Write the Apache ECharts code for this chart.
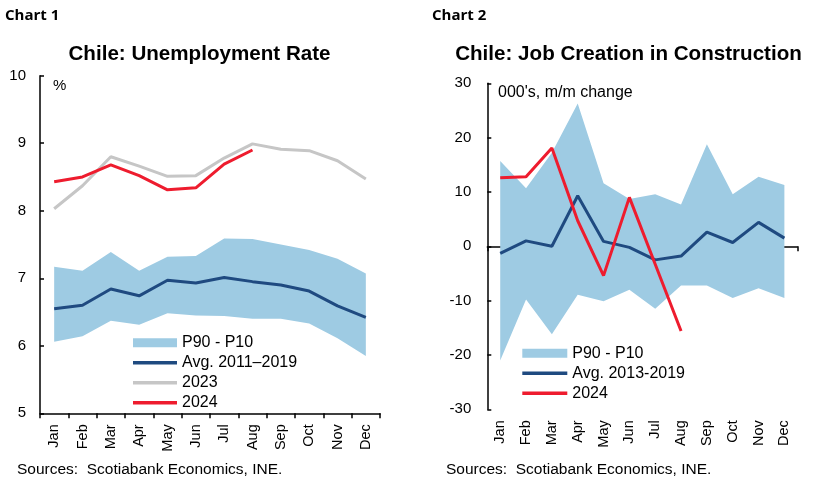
<!DOCTYPE html>
<html>
<head>
<meta charset="utf-8">
<script src="https://cdn.jsdelivr.net/npm/echarts@6/dist/echarts.min.js"></script>
<style>
html,body{margin:0;padding:0;background:#fff;}
#c{width:828px;height:483px;}
</style>
</head>
<body>
<div id="c"></div>
<script>
var months = ['Jan','Feb','Mar','Apr','May','Jun','Jul','Aug','Sep','Oct','Nov','Dec'];

// Chart 1: Unemployment rate (%)
var u_p90 = [7.17,7.11,7.39,7.11,7.32,7.33,7.59,7.58,7.50,7.42,7.29,7.07];
var u_p10 = [6.06,6.14,6.37,6.31,6.48,6.45,6.44,6.40,6.40,6.33,6.11,5.85];
var u_avg = [6.55,6.60,6.84,6.74,6.97,6.93,7.01,6.95,6.90,6.81,6.59,6.42];
var u_2023 = [8.03,8.37,8.80,8.66,8.51,8.52,8.78,8.99,8.91,8.89,8.74,8.47];
var u_2024 = [8.43,8.50,8.68,8.52,8.31,8.34,8.69,8.90,null,null,null,null];
var u_ticks = [5,6,7,8,9,10];

// Chart 2: Job creation in construction (000's, m/m change)
var j_p90 = [15.7,10.7,17.2,26.3,11.6,8.7,9.6,7.7,18.8,9.6,12.8,11.3];
var j_p10 = [-21.0,-9.8,-16.2,-8.9,-10.1,-8.0,-11.5,-7.2,-7.2,-9.5,-7.7,-9.5];
var j_avg = [-1.3,1.0,0.0,9.3,0.9,-0.2,-2.5,-1.8,2.6,0.7,4.4,1.5];
var j_2024 = [12.6,12.8,18.1,4.7,-5.4,9.0,-3.3,-15.6,null,null,null,null];
var j_ticks = [-30,-20,-10,0,10,20,30];

var BAND = '#9ECBE3', NAVY = '#1F4A80', GRAY = '#C6C6C6', RED = '#EE1C2E';
var FONT = '"Liberation Sans", Arial, sans-serif';
var LINE_ICON = 'path://M0,0H44V3.4H0Z';

function diff(a,b){ return a.map(function(v,i){ return +(v-b[i]).toFixed(3); }); }

var chart = echarts.init(document.getElementById('c'), null, {renderer:'canvas'});

function xLab(){ return {rotate:90, margin:11, color:'#000', fontSize:14.5, fontFamily:FONT}; }

var option = {
  animation:false,
  backgroundColor:'#fff',
  grid:[
    {left:40, top:75.7, width:340, height:337.6},
    {left:487.3, top:83.3, width:310, height:326}
  ],
  xAxis:[
    {gridIndex:0, type:'category', data:months, boundaryGap:true,
     axisLine:{lineStyle:{color:'#000', width:1.5}},
     axisTick:{show:true, inside:false, length:5, lineStyle:{color:'#000', width:1.5}},
     axisLabel:xLab(), splitLine:{show:false}},
    {gridIndex:1, type:'category', data:months, boundaryGap:true,
     axisLine:{onZero:true, lineStyle:{color:'#000', width:1.5}},
     axisTick:{show:true, inside:false, length:5, lineStyle:{color:'#000', width:1.5}},
     axisLabel:{show:false}, splitLine:{show:false}},
    {gridIndex:1, type:'category', data:months, boundaryGap:true, position:'bottom',
     axisLine:{show:false, onZero:false}, axisTick:{show:false},
     axisLabel:xLab(), splitLine:{show:false}}
  ],
  yAxis:[
    {gridIndex:0, type:'value', min:u_ticks[0], max:u_ticks[u_ticks.length-1], interval:1,
     axisLine:{show:true, lineStyle:{color:'#000', width:1.5}},
     axisTick:{show:true, inside:true, length:4, lineStyle:{color:'#000', width:1.5}},
     axisLabel:{color:'#000', fontSize:15, fontFamily:FONT, margin:14},
     splitLine:{show:false}},
    {gridIndex:1, type:'value', min:j_ticks[0], max:j_ticks[j_ticks.length-1], interval:10,
     axisLine:{show:true, onZero:false, lineStyle:{color:'#000', width:1.5}},
     axisTick:{show:true, inside:true, length:4, lineStyle:{color:'#000', width:1.5}},
     axisLabel:{color:'#000', fontSize:15, fontFamily:FONT, margin:16},
     splitLine:{show:false}}
  ],
  legend:[
    {orient:'vertical', left:133, top:334.7, padding:0, itemWidth:44, itemHeight:9, itemGap:4,
     symbolKeepAspect:true,
     textStyle:{color:'#000', fontSize:16, fontFamily:FONT},
     selectedMode:false,
     data:[{name:'P90 - P10', icon:'rect'},
           {name:'Avg. 2011\u20132019', icon:LINE_ICON, itemStyle:{color:NAVY}},
           {name:'2023', icon:LINE_ICON, itemStyle:{color:GRAY}},
           {name:'2024', icon:LINE_ICON, itemStyle:{color:RED}}]},
    {orient:'vertical', left:522.3, top:345.3, padding:0, itemWidth:45, itemHeight:9, itemGap:4,
     symbolKeepAspect:true,
     textStyle:{color:'#000', fontSize:16, fontFamily:FONT},
     selectedMode:false,
     data:[{name:'P90 - P10', icon:'rect'},
           {name:'Avg. 2013-2019', icon:LINE_ICON, itemStyle:{color:NAVY}},
           {name:'2024', icon:LINE_ICON, itemStyle:{color:RED}}]}
  ],
  series:[
    {name:'_lo1', type:'line', xAxisIndex:0, yAxisIndex:0, stack:'b1', stackStrategy:'all',
     data:u_p10, symbol:'none', lineStyle:{width:0, opacity:0}, silent:true, z:1},
    {name:'P90 - P10', type:'line', xAxisIndex:0, yAxisIndex:0, stack:'b1', stackStrategy:'all',
     data:diff(u_p90,u_p10), symbol:'none', color:BAND, itemStyle:{color:BAND},
     lineStyle:{width:0, opacity:0}, areaStyle:{color:BAND, opacity:1}, silent:true, z:1},
    {name:'Avg. 2011\u20132019', type:'line', xAxisIndex:0, yAxisIndex:0, data:u_avg,
     symbol:'none', color:NAVY, lineStyle:{color:NAVY, width:3}, z:3},
    {name:'2023', type:'line', xAxisIndex:0, yAxisIndex:0, data:u_2023,
     symbol:'none', color:GRAY, lineStyle:{color:GRAY, width:3}, z:3},
    {name:'2024', type:'line', xAxisIndex:0, yAxisIndex:0, data:u_2024,
     symbol:'none', color:RED, lineStyle:{color:RED, width:3}, z:4},

    {name:'_lo2', type:'line', xAxisIndex:1, yAxisIndex:1, stack:'b2', stackStrategy:'all',
     data:j_p10, symbol:'none', lineStyle:{width:0, opacity:0}, silent:true, z:1},
    {name:'P90 - P10', type:'line', xAxisIndex:1, yAxisIndex:1, stack:'b2', stackStrategy:'all',
     data:diff(j_p90,j_p10), symbol:'none', color:BAND, itemStyle:{color:BAND},
     lineStyle:{width:0, opacity:0}, areaStyle:{color:BAND, opacity:1}, silent:true, z:1},
    {name:'Avg. 2013-2019', type:'line', xAxisIndex:1, yAxisIndex:1, data:j_avg,
     symbol:'none', color:NAVY, lineStyle:{color:NAVY, width:3}, z:3},
    {name:'2024', type:'line', xAxisIndex:1, yAxisIndex:1, data:j_2024,
     symbol:'none', color:RED, lineStyle:{color:RED, width:3}, z:4}
  ],
  graphic:[
    {type:'text', x:5, y:16, style:{text:'Chart 1', font:'bold 15px "Open Sans", sans-serif', fill:'#000', align:'left', verticalAlign:'middle', textAlign:'left', textVerticalAlign:'middle'}},
    {type:'text', x:432, y:16, style:{text:'Chart 2', font:'bold 15px "Open Sans", sans-serif', fill:'#000', align:'left', verticalAlign:'middle', textAlign:'left', textVerticalAlign:'middle'}},
    {type:'text', x:199.5, y:54.5, style:{text:'Chile: Unemployment Rate', font:'bold 20.6px "Liberation Sans", Arial, sans-serif', fill:'#000', align:'center', verticalAlign:'middle', textAlign:'center', textVerticalAlign:'middle'}},
    {type:'text', x:628.5, y:54.5, style:{text:'Chile: Job Creation in Construction', font:'bold 20.6px "Liberation Sans", Arial, sans-serif', fill:'#000', align:'center', verticalAlign:'middle', textAlign:'center', textVerticalAlign:'middle'}},
    {type:'text', x:53, y:86, style:{text:'%', font:'15px "Liberation Sans", Arial, sans-serif', fill:'#000', align:'left', verticalAlign:'middle', textAlign:'left', textVerticalAlign:'middle'}},
    {type:'text', x:498, y:92.5, style:{text:"000's, m/m change", font:'16px "Liberation Sans", Arial, sans-serif', fill:'#000', align:'left', verticalAlign:'middle', textAlign:'left', textVerticalAlign:'middle'}},
    {type:'text', x:17, y:470, style:{text:'Sources:  Scotiabank Economics, INE.', font:'15.5px "Liberation Sans", Arial, sans-serif', fill:'#000', align:'left', verticalAlign:'middle', textAlign:'left', textVerticalAlign:'middle'}},
    {type:'text', x:446, y:470, style:{text:'Sources:  Scotiabank Economics, INE.', font:'15.5px "Liberation Sans", Arial, sans-serif', fill:'#000', align:'left', verticalAlign:'middle', textAlign:'left', textVerticalAlign:'middle'}}
  ]
};
chart.setOption(option);
</script>
</body>
</html>
